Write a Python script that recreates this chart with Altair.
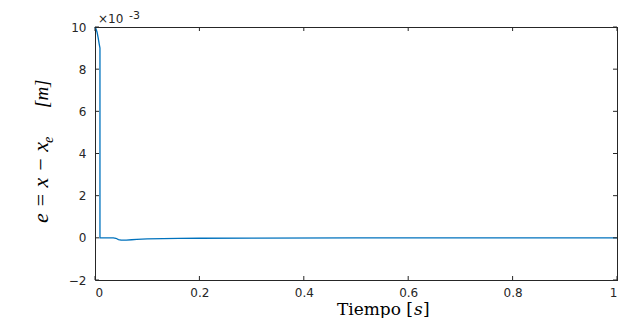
import altair as alt
import pandas as pd

# Error signal e = x - x_e (values in units of 1e-3 m)
t_vals = [0.0, 0.002, 0.004, 0.006, 0.008, 0.0095, 0.0095, 0.02, 0.035, 0.04, 0.045, 0.05,
          0.06, 0.07, 0.08, 0.1, 0.13, 0.16, 0.2, 0.3, 0.5, 1.0]
e_vals = [10.0, 9.9, 9.75, 9.5, 9.2, 9.0, 0.0, 0.0, 0.0, -0.02, -0.08, -0.11,
          -0.11, -0.09, -0.07, -0.05, -0.04, -0.03, -0.02, -0.01, 0.0, 0.0]

x_ticks = [0, 0.2, 0.4, 0.6, 0.8, 1.0]
y_ticks = [-2, 0, 2, 4, 6, 8, 10]

W, H = 522, 253
AX = "#262626"

df = pd.DataFrame({"t": t_vals, "e": e_vals})
xt = pd.DataFrame({"v": x_ticks})
yt = pd.DataFrame({"v": y_ticks})

xs = alt.Scale(domain=[0, 1], nice=False, zero=False)
ys = alt.Scale(domain=[-2, 10], nice=False, zero=False)

x_axis = alt.Axis(values=x_ticks, format="~g", ticks=False, tickSize=0, domain=True,
                  domainColor=AX, domainWidth=1, grid=False,
                  labelFont="DejaVu Sans", labelFontSize=12, labelColor=AX, labelPadding=7,
                  title=None)
y_axis = alt.Axis(values=y_ticks, format="d", ticks=False, tickSize=0, domain=True,
                  domainColor=AX, domainWidth=1, grid=False,
                  labelFont="DejaVu Sans", labelFontSize=12, labelColor=AX, labelPadding=9,
                  title=None)

line = alt.Chart(df).transform_window(index="row_number()").mark_line(
    color="#0072BD", strokeWidth=1.3).encode(
    x=alt.X("t:Q", scale=xs, axis=x_axis),
    y=alt.Y("e:Q", scale=ys, axis=y_axis),
    order="index:Q",
)

xb = alt.Chart(xt).mark_rule(color=AX, strokeWidth=1).encode(
    x=alt.X("v:Q", scale=xs), y=alt.value(H), y2=alt.value(H - 4))
xtop = alt.Chart(xt).mark_rule(color=AX, strokeWidth=1).encode(
    x=alt.X("v:Q", scale=xs), y=alt.value(0), y2=alt.value(4))
yl = alt.Chart(yt).mark_rule(color=AX, strokeWidth=1).encode(
    y=alt.Y("v:Q", scale=ys), x=alt.value(0), x2=alt.value(4))
yr = alt.Chart(yt).mark_rule(color=AX, strokeWidth=1).encode(
    y=alt.Y("v:Q", scale=ys), x=alt.value(W), x2=alt.value(W - 4))

# top and right box edges (half-pixel offsets keep them crisp)
top_edge = alt.Chart(pd.DataFrame({"v": [10]})).mark_rule(color=AX, strokeWidth=1).encode(
    y=alt.value(0.5), x=alt.value(0), x2=alt.value(W + 1), detail="v:Q")
right_edge = alt.Chart(pd.DataFrame({"v": [1.0]})).mark_rule(color=AX, strokeWidth=1).encode(
    x=alt.value(W + 0.5), y=alt.value(0), y2=alt.value(H + 1), detail="v:Q")


def label(text, x, y, size, font="DejaVu Sans", style="normal", align="left",
          angle=0, baseline="alphabetic", color=AX):
    return alt.Chart(pd.DataFrame({"s": [text]})).mark_text(
        font=font, fontSize=size, fontStyle=style, color=color, align=align,
        baseline=baseline, angle=angle).encode(text="s:N", x=alt.value(x), y=alt.value(y))


exp1 = label("×10", 3, -4, 12)
exp2 = label("-3", 34, -8, 11)

yt1 = label("e = x − x", -47, 196, 22, font="Liberation Serif", style="italic",
            angle=270, color="black")
yt2 = label("e", -42, 116, 14, font="Liberation Serif", style="italic",
            angle=270, color="black")
yt3 = label("[m]", -47, 81, 19, font="Liberation Serif", style="italic",
            angle=270, color="black")

xt1 = label("Tiempo [", 318, 288, 17, font="DejaVu Serif", align="right", color="black")
xt2 = label("s", 319, 288, 17, font="DejaVu Serif", style="italic", color="black")
xt3 = label("]", 328, 288, 17, font="DejaVu Serif", color="black")

chart = alt.layer(line, xb, xtop, yl, yr, top_edge, right_edge,
                  exp1, exp2, yt1, yt2, yt3, xt1, xt2, xt3).properties(
    width=W, height=H,
    background="white",
    autosize=alt.AutoSizeParams(type="none"),
    padding={"left": 87, "top": 19, "right": 1, "bottom": 38},
).configure_view(stroke=None)

chart.save("out.html", embed_options={"renderer": "svg", "actions": False})
